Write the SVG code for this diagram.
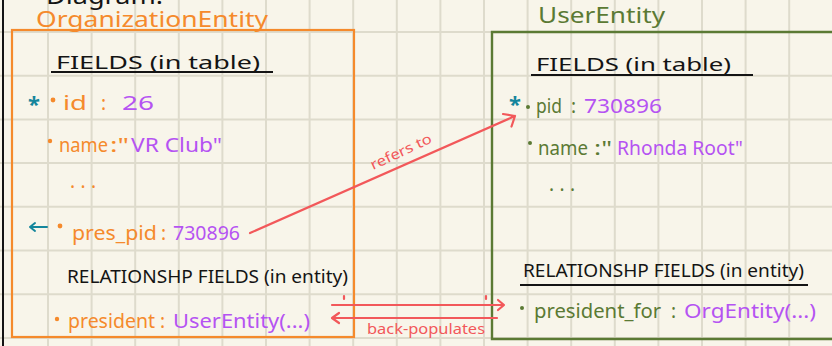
<svg xmlns="http://www.w3.org/2000/svg" width="832" height="346" viewBox="0 0 832 346">
  <style>
    text { font-family: "Noto Sans", "Liberation Sans", sans-serif; }
    .grid { stroke: #dedbcc; stroke-width: 2; fill: none; }
    .ink { fill: #141414; }
    .org { fill: #f58a2c; }
    .usr { fill: #5b7a34; }
    .val { fill: #b553f2; }
    .key { fill: #14869c; }
    .rel { fill: #f2585a; }
    .hdr { font-size: 18px; }
    .fld { font-size: 19px; }
    .ttl { font-size: 22px; }
    .rule { stroke: #141414; stroke-width: 2; }
    .wire { stroke: #f2585a; stroke-width: 2.2; fill: none; stroke-linecap: round; stroke-linejoin: round; }
  </style>

  <!-- paper -->
  <rect width="832" height="346" fill="#f8f5ea"/>
  <path class="grid" d="M48 0V346M91.6 0V346M135.2 0V346M178.8 0V346M222.4 0V346M266 0V346M309.6 0V346M353.2 0V346M396.8 0V346M440.4 0V346M484 0V346M527.6 0V346M571.2 0V346M614.8 0V346M658.4 0V346M702 0V346M745.6 0V346M789.2 0V346
    M0 32H832M0 75.7H832M0 119.4H832M0 163.1H832M0 206.8H832M0 250.5H832M0 294.2H832M0 337.9H832"/>
  <line x1="3" y1="0" x2="3" y2="346" stroke="#141414" stroke-width="2"/>

  <!-- page heading, running off the top edge -->
  <text class="ink" x="46" y="4" font-size="24" textLength="117" lengthAdjust="spacingAndGlyphs">Diagram:</text>

  <!-- OrganizationEntity -->
  <g id="organization-entity">
    <text class="org ttl" x="36" y="27" textLength="232" lengthAdjust="spacingAndGlyphs">OrganizationEntity</text>
    <rect x="12" y="30" width="342" height="307" fill="none" stroke="#f58a2c" stroke-width="2.2"/>

    <text class="ink hdr" x="56" y="69" textLength="204" lengthAdjust="spacingAndGlyphs">FIELDS (in table)</text>
    <line class="rule" x1="51" y1="72" x2="273" y2="72"/>

    <text class="key" x="28" y="112" font-size="22" font-weight="bold">*</text>
    <circle cx="53" cy="100" r="2.4" fill="#f58a2c"/>
    <text class="fld" y="110"><tspan class="org" x="63" textLength="24" lengthAdjust="spacingAndGlyphs">id</tspan><tspan class="org" x="101">:</tspan><tspan class="val" x="122" textLength="32" lengthAdjust="spacingAndGlyphs">26</tspan></text>

    <circle cx="50" cy="141" r="2.2" fill="#f58a2c"/>
    <text class="fld" y="152"><tspan class="org" x="59" textLength="49" lengthAdjust="spacingAndGlyphs">name</tspan><tspan class="org" x="110" textLength="19" lengthAdjust="spacingAndGlyphs">:"</tspan><tspan class="val" x="131" textLength="91" lengthAdjust="spacingAndGlyphs">VR Club"</tspan></text>

    <text class="org fld" x="70" y="188" textLength="26" lengthAdjust="spacing">...</text>

    <path d="M47 227H30M35 223L30 227L35 231" fill="none" stroke="#14869c" stroke-width="2" stroke-linecap="round" stroke-linejoin="round"/>
    <circle cx="60" cy="226" r="2.4" fill="#f58a2c"/>
    <text class="fld" y="240"><tspan class="org" x="72" textLength="85" lengthAdjust="spacingAndGlyphs">pres_pid</tspan><tspan class="org" x="161">:</tspan><tspan class="val" x="173" textLength="67" lengthAdjust="spacingAndGlyphs">730896</tspan></text>

    <text class="ink hdr" x="67" y="283" textLength="281" lengthAdjust="spacingAndGlyphs">RELATIONSHP FIELDS (in entity)</text>

    <circle cx="57" cy="319" r="2.2" fill="#f58a2c"/>
    <text class="fld" y="328"><tspan class="org" x="68" textLength="87" lengthAdjust="spacingAndGlyphs">president</tspan><tspan class="org" x="160">:</tspan><tspan class="val" x="173" textLength="137" lengthAdjust="spacingAndGlyphs">UserEntity(...)</tspan></text>
  </g>

  <!-- UserEntity -->
  <g id="user-entity">
    <text class="usr ttl" x="538" y="23" textLength="127" lengthAdjust="spacingAndGlyphs">UserEntity</text>
    <path d="M836 32H492V339H836" fill="none" stroke="#5b7a34" stroke-width="2.4"/>

    <text class="ink hdr" x="536" y="71" textLength="195" lengthAdjust="spacingAndGlyphs">FIELDS (in table)</text>
    <line class="rule" x1="531" y1="75" x2="753" y2="75"/>

    <text class="key" x="509" y="112" font-size="22" font-weight="bold">*</text>
    <circle cx="528" cy="107" r="2" fill="#5b7a34"/>
    <text class="fld" y="113"><tspan class="usr" x="536" textLength="26" lengthAdjust="spacingAndGlyphs">pid</tspan><tspan class="usr" x="571">:</tspan><tspan class="val" x="584" textLength="78" lengthAdjust="spacingAndGlyphs">730896</tspan></text>

    <circle cx="530" cy="143" r="2" fill="#5b7a34"/>
    <text class="fld" y="155"><tspan class="usr" x="538" textLength="50" lengthAdjust="spacingAndGlyphs">name</tspan><tspan class="usr" x="594" textLength="18" lengthAdjust="spacingAndGlyphs">:"</tspan><tspan class="val" x="617" textLength="126" lengthAdjust="spacingAndGlyphs">Rhonda Root"</tspan></text>

    <text class="usr fld" x="549" y="191" textLength="26" lengthAdjust="spacing">...</text>

    <text class="ink hdr" x="523" y="277" textLength="281" lengthAdjust="spacingAndGlyphs">RELATIONSHP FIELDS (in entity)</text>
    <line class="rule" x1="520" y1="285" x2="808" y2="285"/>

    <circle cx="522" cy="308" r="2" fill="#5b7a34"/>
    <text class="fld" y="318"><tspan class="usr" x="534" textLength="127" lengthAdjust="spacingAndGlyphs">president_for</tspan><tspan class="usr" x="671">:</tspan><tspan class="val" x="684" textLength="132" lengthAdjust="spacingAndGlyphs">OrgEntity(...)</tspan></text>
  </g>

  <!-- connectors -->
  <g id="connectors">
    <path class="wire" d="M250 233L515 116M503 114L515 116L511.5 126.5"/>
    <text class="rel" font-size="14" transform="translate(403 156) rotate(-25)" text-anchor="middle" textLength="66" lengthAdjust="spacingAndGlyphs">refers to</text>

    <path class="wire" d="M332 305H504M498 300L504 305L498 310"/>
    <path class="wire" d="M344 296V299M486 296V299"/>
    <path class="wire" d="M497 318H332M339 313L332 318L339 323"/>
    <text class="rel" x="367" y="334" font-size="14" textLength="118" lengthAdjust="spacingAndGlyphs">back-populates</text>
  </g>
</svg>
